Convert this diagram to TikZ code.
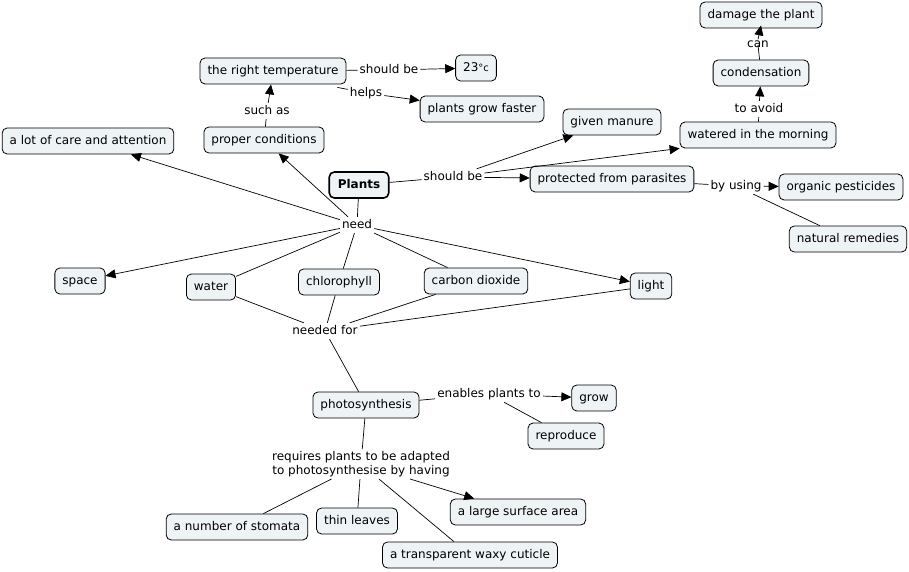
\documentclass[tikz,border=0pt]{standalone}
\usepackage{fontspec}
\setmainfont{DejaVu Sans}
\usetikzlibrary{arrows.meta}
\definecolor{cfill}{RGB}{238,244,246}
\begin{document}
\begin{tikzpicture}[x=1pt,y=-1pt,
  every node/.style={font=\fontsize{12}{14}\selectfont},
  concept/.style={draw, rounded corners=5pt, fill=cfill, line width=0.8pt,
    inner xsep=7.5pt, inner ysep=7pt, text height=9.5pt, text depth=2.5pt},
  mainconcept/.style={concept, line width=1.6pt, inner xsep=8.5pt, font=\fontsize{12}{14}\selectfont\bfseries},
  lbl/.style={inner sep=2pt, text height=9.5pt, text depth=2.5pt},
  ln/.style={line width=0.7pt},
  arr/.style={line width=0.7pt, -{Triangle[length=10pt,width=9pt]}}]
\useasboundingbox (0,0) rectangle (909,572);
% concepts
\node[concept] (dmg) at (761,15) {damage the plant};
\node[concept] (cond) at (761,73) {condensation};
\node[concept] (water2) at (758,135) {watered in the morning};
\node[concept] (temp) at (273,71) {the right temperature};
\node[concept] (deg) at (476,68) {23{\fontsize{10}{12}\selectfont°c}};
\node[concept] (fast) at (482,109) {plants grow faster};
\node[concept] (manure) at (612,122) {given manure};
\node[concept] (care) at (88,141) {a lot of care and attention};
\node[concept] (proper) at (264,140) {proper conditions};
\node[mainconcept] (plants) at (359,185) {Plants};
\node[concept] (prot) at (612,179) {protected from parasites};
\node[concept] (org) at (841,187) {organic pesticides};
\node[concept] (nat) at (848,239) {natural remedies};
\node[concept] (space) at (80,281) {space};
\node[concept] (water) at (211,287) {water};
\node[concept] (chl) at (339,282) {chlorophyll};
\node[concept] (co2) at (476,281) {carbon dioxide};
\node[concept] (light) at (651,286) {light};
\node[concept] (photo) at (366,405) {photosynthesis};
\node[concept] (grow) at (594,398) {grow};
\node[concept] (repro) at (566,436) {reproduce};
\node[concept] (stom) at (237,527) {a number of stomata};
\node[concept] (thin) at (357,521) {thin leaves};
\node[concept] (large) at (518,512) {a large surface area};
\node[concept] (wax) at (470,555) {a transparent waxy cuticle};
% link labels
\node[lbl] (sb1) at (389,70) {should be};
\node[lbl] (helps) at (366,93) {helps};
\node[lbl] (such) at (267,111) {such as};
\node[lbl] (sb2) at (453,177) {should be};
\node[lbl] (need) at (357,225) {need};
\node[lbl] (nfor) at (325,331) {needed for};
\node[lbl] (enab) at (489,394) {enables plants to};
\node[inner sep=2pt, align=center] (req) at (361,464) {requires plants to be adapted\\to photosynthesise by having};
\node[lbl] (byu) at (736,186) {by using};
\node[lbl] (avoid) at (759,109) {to avoid};
\node[inner sep=0pt, text height=8pt, text depth=3pt] (can) at (758,45) {can};
% connectors
\draw[ln] (temp) -- (sb1);
\draw[arr] (sb1) -- (deg);
\draw[ln] (temp.south east) ++(-9,3) coordinate (hs) -- (helps);
\draw[arr] (helps) -- (fast);
\draw[ln] (proper) -- (such);
\draw[arr] (such) -- (temp);
\draw[ln] (plants) -- (sb2);
\draw[arr] (sb2) -- (manure);
\draw[arr] (sb2) -- (water2.south west);
\draw[arr] (sb2) -- (prot);
\draw[ln] (prot) -- (byu);
\draw[arr] (byu) -- (org);
\draw[ln] (byu) -- (nat);
\draw[ln] (water2) -- (avoid);
\draw[arr] (avoid) -- (cond);
\draw[ln] (cond) -- (can.center);
\draw[arr] (can.north) -- ([yshift=3]dmg.south);
\draw[ln] (plants) -- (need);
\draw[arr] (need) -- (care);
\draw[arr] (need) -- (proper);
\draw[arr] (need) -- (space);
\draw[ln] (need) -- (water);
\draw[ln] (need) -- (chl);
\draw[ln] (need) -- (co2);
\draw[arr] (need) -- (light);
\draw[ln] (water) -- (nfor);
\draw[ln] (chl) -- (nfor);
\draw[ln] (co2) -- (nfor);
\draw[ln] (light) -- (nfor);
\draw[ln] (nfor) -- (photo);
\draw[ln] (photo) -- (enab);
\draw[arr] (enab) -- (grow);
\draw[ln] (enab) -- (repro);
\draw[ln] (photo) -- (req);
\draw[ln] (req) -- (stom);
\draw[ln] (req) -- (thin);
\draw[ln] (req) -- (wax);
\draw[arr] (req) -- (large);
\end{tikzpicture}
\end{document}
